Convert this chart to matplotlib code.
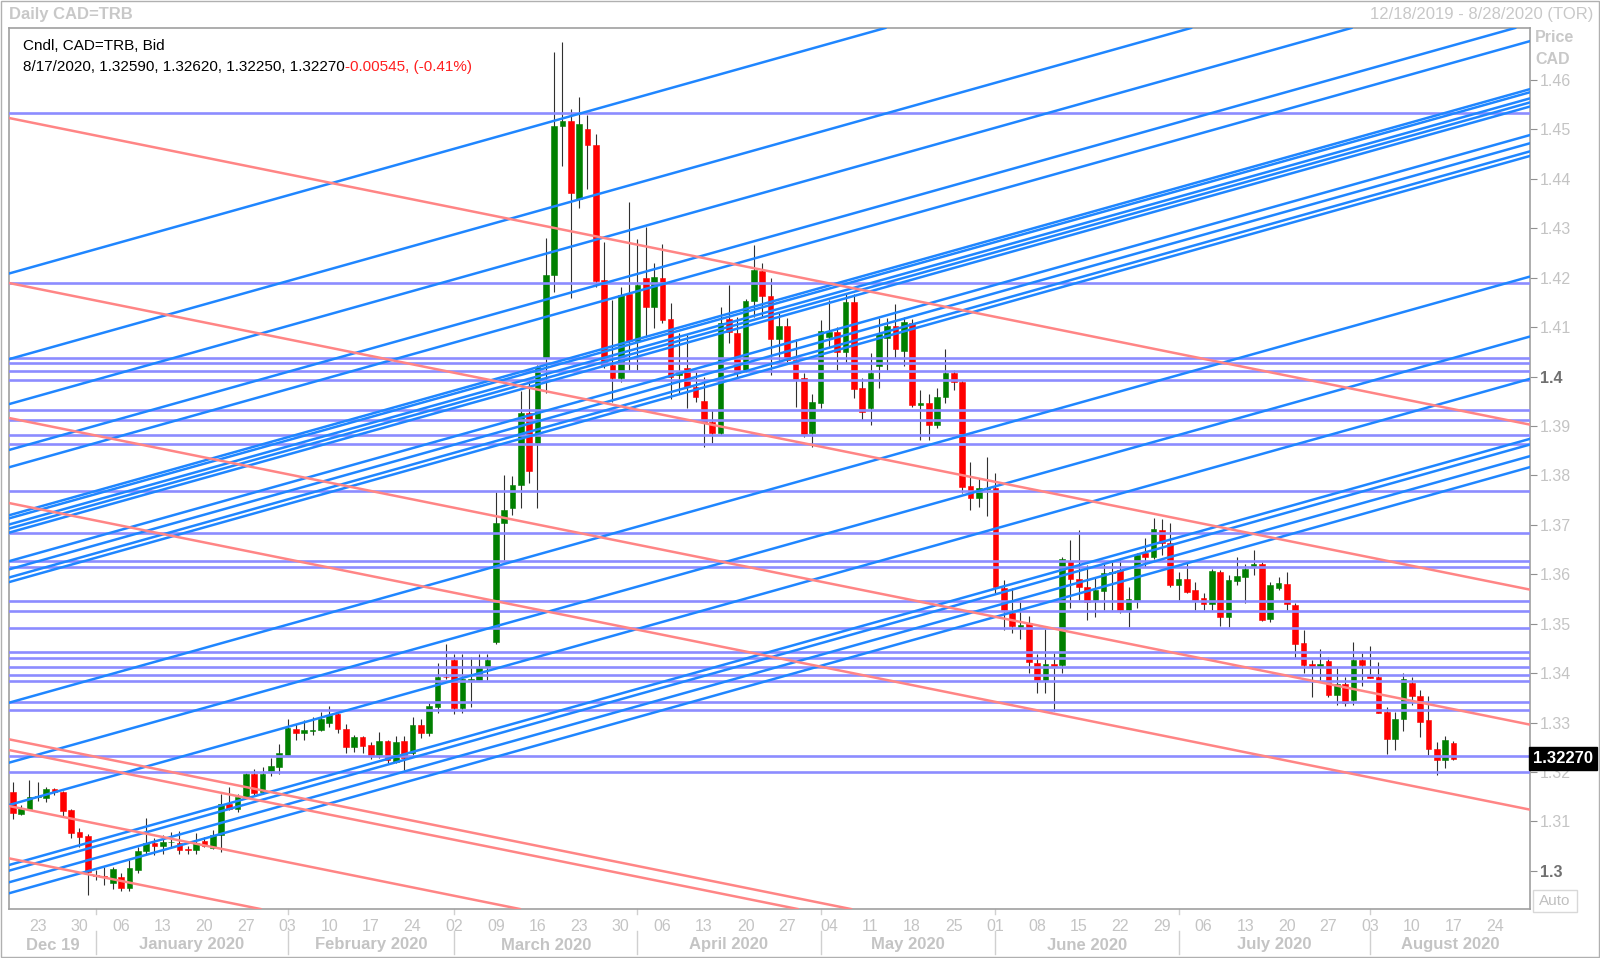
import matplotlib
matplotlib.use("Agg")
import matplotlib.pyplot as plt
from matplotlib.patches import Rectangle
from matplotlib.lines import Line2D
import numpy as np
import pandas as pd

# daily CAD=TRB candles, 12/18/2019 .. 8/17/2020 (one per weekday)
opens = [
    1.3160, 1.3116, 1.3126, 1.3150, 1.3147, 1.3166, 1.3160, 1.3123, 1.3079, 1.3070,
    1.2991, 1.2990, 1.2975, 1.2988, 1.2965, 1.3002, 1.3040, 1.3057, 1.3051, 1.3058,
    1.3056, 1.3044, 1.3042, 1.3060, 1.3047, 1.3072, 1.3135, 1.3126, 1.3150, 1.3197,
    1.3160, 1.3203, 1.3211, 1.3234, 1.3287, 1.3278, 1.3284, 1.3285, 1.3300, 1.3317,
    1.3287, 1.3251, 1.3270, 1.3255, 1.3234, 1.3263, 1.3221, 1.3263, 1.3238, 1.3295,
    1.3278, 1.3332, 1.3393, 1.3427, 1.3329, 1.3386, 1.3386, 1.3412, 1.3464, 1.3703,
    1.3735, 1.3781, 1.3927, 1.3866, 1.4037, 1.4205, 1.4506, 1.4518, 1.4359, 1.4501,
    1.4469, 1.4195, 1.4024, 1.3997, 1.4168, 1.4071, 1.4199, 1.4140, 1.4199, 1.4116,
    1.4003, 1.4017, 1.3978, 1.3951, 1.3909, 1.3885, 1.4116, 1.4088, 1.4013, 1.4152,
    1.4214, 1.4164, 1.4077, 1.4102, 1.4034, 1.3998, 1.3885, 1.3946, 1.4081, 1.4091,
    1.4050, 1.4150, 1.3976, 1.3937, 1.4021, 1.4079, 1.4102, 1.4052, 1.4108, 1.3943,
    1.3946, 1.3903, 1.3958, 1.4008, 1.3990, 1.3779, 1.3754, 1.3773, 1.3774, 1.3572,
    1.3521, 1.3494, 1.3502, 1.3421, 1.3386, 1.3418, 1.3416, 1.3626, 1.3590, 1.3574,
    1.3549, 1.3567, 1.3603, 1.3609, 1.3528, 1.3549, 1.3644, 1.3636, 1.3690, 1.3663,
    1.3578, 1.3590, 1.3568, 1.3553, 1.3540, 1.3605, 1.3513, 1.3587, 1.3594, 1.3617,
    1.3621, 1.3509, 1.3572, 1.3580, 1.3538, 1.3462, 1.3419, 1.3415, 1.3425, 1.3356,
    1.3379, 1.3346, 1.3427, 1.3394, 1.3393, 1.3322, 1.3266, 1.3307, 1.3381, 1.3354,
    1.3305, 1.3246, 1.3224, 1.3259,
]
highs = [
    1.3180, 1.3133, 1.3184, 1.3180, 1.3170, 1.3167, 1.3161, 1.3126, 1.3087, 1.3074,
    1.3002, 1.3008, 1.3008, 1.2996, 1.3022, 1.3049, 1.3106, 1.3066, 1.3073, 1.3079,
    1.3081, 1.3051, 1.3076, 1.3069, 1.3082, 1.3155, 1.3170, 1.3155, 1.3199, 1.3207,
    1.3211, 1.3228, 1.3257, 1.3307, 1.3298, 1.3305, 1.3312, 1.3322, 1.3334, 1.3320,
    1.3298, 1.3275, 1.3273, 1.3261, 1.3280, 1.3265, 1.3273, 1.3273, 1.3311, 1.3308,
    1.3340, 1.3420, 1.3460, 1.3439, 1.3439, 1.3433, 1.3439, 1.3439, 1.3767, 1.3801,
    1.3798, 1.3970, 1.3993, 1.4023, 1.4280, 1.4657, 1.4676, 1.4541, 1.4566, 1.4529,
    1.4491, 1.4273, 1.4155, 1.4182, 1.4354, 1.4278, 1.4303, 1.4229, 1.4268, 1.4148,
    1.4088, 1.4084, 1.4010, 1.4000, 1.3932, 1.4140, 1.4185, 1.4121, 1.4156, 1.4266,
    1.4230, 1.4200, 1.4128, 1.4118, 1.4077, 1.4007, 1.3964, 1.4114, 1.4155, 1.4101,
    1.4168, 1.4168, 1.3998, 1.4047, 1.4118, 1.4118, 1.4147, 1.4121, 1.4116, 1.3973,
    1.3965, 1.3976, 1.4055, 1.4013, 1.3993, 1.3828, 1.3794, 1.3838, 1.3804, 1.3588,
    1.3572, 1.3543, 1.3516, 1.3439, 1.3489, 1.3440, 1.3636, 1.3669, 1.3690, 1.3619,
    1.3595, 1.3622, 1.3624, 1.3632, 1.3574, 1.3644, 1.3673, 1.3713, 1.3711, 1.3704,
    1.3605, 1.3626, 1.3585, 1.3563, 1.3610, 1.3609, 1.3599, 1.3634, 1.3621, 1.3650,
    1.3624, 1.3585, 1.3594, 1.3605, 1.3541, 1.3487, 1.3427, 1.3448, 1.3433, 1.3410,
    1.3393, 1.3464, 1.3440, 1.3455, 1.3423, 1.3332, 1.3322, 1.3401, 1.3393, 1.3365,
    1.3353, 1.3261, 1.3273, 1.3262,
]
lows = [
    1.3104, 1.3113, 1.3123, 1.3142, 1.3140, 1.3153, 1.3111, 1.3066, 1.3049, 1.2951,
    1.2981, 1.2971, 1.2963, 1.2960, 1.2960, 1.2995, 1.3032, 1.3032, 1.3035, 1.3049,
    1.3035, 1.3035, 1.3035, 1.3049, 1.3045, 1.3039, 1.3123, 1.3120, 1.3149, 1.3151,
    1.3155, 1.3191, 1.3197, 1.3234, 1.3265, 1.3265, 1.3275, 1.3282, 1.3292, 1.3278,
    1.3238, 1.3241, 1.3238, 1.3226, 1.3228, 1.3218, 1.3218, 1.3204, 1.3234, 1.3268,
    1.3273, 1.3319, 1.3389, 1.3317, 1.3320, 1.3332, 1.3386, 1.3386, 1.3460, 1.3629,
    1.3720, 1.3735, 1.3784, 1.3734, 1.3966, 1.4172, 1.4426, 1.4158, 1.4342, 1.4379,
    1.4182, 1.4017, 1.3949, 1.3990, 1.4013, 1.4013, 1.4081, 1.4098, 1.4108, 1.3954,
    1.3966, 1.3936, 1.3949, 1.3858, 1.3865, 1.3882, 1.4067, 1.4000, 1.4010, 1.4120,
    1.4121, 1.4003, 1.4034, 1.4030, 1.3939, 1.3878, 1.3858, 1.3936, 1.4057, 1.4013,
    1.4030, 1.3956, 1.3913, 1.3902, 1.3976, 1.4013, 1.4037, 1.4021, 1.3939, 1.3872,
    1.3872, 1.3895, 1.3946, 1.3973, 1.3764, 1.3730, 1.3737, 1.3717, 1.3561, 1.3487,
    1.3482, 1.3470, 1.3400, 1.3360, 1.3360, 1.3324, 1.3400, 1.3531, 1.3549, 1.3508,
    1.3514, 1.3528, 1.3528, 1.3521, 1.3494, 1.3531, 1.3615, 1.3630, 1.3639, 1.3574,
    1.3549, 1.3563, 1.3528, 1.3528, 1.3528, 1.3495, 1.3494, 1.3578, 1.3541, 1.3598,
    1.3506, 1.3504, 1.3568, 1.3528, 1.3430, 1.3401, 1.3352, 1.3386, 1.3352, 1.3336,
    1.3334, 1.3336, 1.3374, 1.3391, 1.3319, 1.3236, 1.3245, 1.3284, 1.3336, 1.3271,
    1.3235, 1.3194, 1.3208, 1.3225,
]
closes = [
    1.3118, 1.3128, 1.3149, 1.3152, 1.3166, 1.3159, 1.3121, 1.3077, 1.3069, 1.2998,
    1.2990, 1.2988, 1.3004, 1.2965, 1.3006, 1.3040, 1.3056, 1.3051, 1.3059, 1.3059,
    1.3042, 1.3042, 1.3057, 1.3051, 1.3072, 1.3135, 1.3126, 1.3149, 1.3195, 1.3157,
    1.3197, 1.3212, 1.3239, 1.3290, 1.3278, 1.3285, 1.3285, 1.3307, 1.3315, 1.3287,
    1.3250, 1.3270, 1.3253, 1.3234, 1.3263, 1.3224, 1.3260, 1.3228, 1.3295, 1.3278,
    1.3334, 1.3393, 1.3392, 1.3329, 1.3388, 1.3389, 1.3412, 1.3427, 1.3704, 1.3731,
    1.3781, 1.3927, 1.3808, 1.4020, 1.4205, 1.4506, 1.4518, 1.4372, 1.4510, 1.4469,
    1.4194, 1.4024, 1.3997, 1.4166, 1.4071, 1.4185, 1.4140, 1.4202, 1.4115, 1.4000,
    1.4010, 1.3978, 1.3959, 1.3909, 1.3885, 1.4108, 1.4091, 1.4007, 1.4152, 1.4215,
    1.4163, 1.4077, 1.4102, 1.4034, 1.3996, 1.3884, 1.3948, 1.4093, 1.4091, 1.4050,
    1.4150, 1.3974, 1.3929, 1.4008, 1.4087, 1.4102, 1.4055, 1.4111, 1.3943, 1.3946,
    1.3903, 1.3958, 1.4008, 1.3990, 1.3777, 1.3754, 1.3774, 1.3775, 1.3575, 1.3528,
    1.3495, 1.3498, 1.3423, 1.3386, 1.3418, 1.3415, 1.3630, 1.3590, 1.3574, 1.3543,
    1.3569, 1.3603, 1.3604, 1.3528, 1.3551, 1.3639, 1.3636, 1.3691, 1.3664, 1.3578,
    1.3590, 1.3565, 1.3549, 1.3540, 1.3607, 1.3513, 1.3588, 1.3597, 1.3610, 1.3621,
    1.3508, 1.3578, 1.3582, 1.3540, 1.3460, 1.3417, 1.3415, 1.3419, 1.3356, 1.3379,
    1.3339, 1.3427, 1.3417, 1.3391, 1.3320, 1.3266, 1.3307, 1.3389, 1.3354, 1.3302,
    1.3246, 1.3224, 1.3265, 1.3227,
]

# drawn tools: horizontal levels and two sets of parallel trend lines
h_levels = [1.4533, 1.4189, 1.4037, 1.4028, 1.4012, 1.3994, 1.3932, 1.3912, 1.3882,
            1.3864, 1.3769, 1.3683, 1.3627, 1.3614, 1.3547, 1.3526, 1.3491, 1.3442,
            1.3430, 1.3413, 1.3396, 1.3385, 1.3342, 1.3325, 1.3233, 1.3201]
blue_start = [1.42085, 1.40352, 1.39443, 1.38515, 1.38165, 1.37194, 1.37131, 1.37007,
              1.36925, 1.36842, 1.36265, 1.36099, 1.35935, 1.35842, 1.33402, 1.32189,
              1.31333, 1.30119, 1.30004, 1.29769, 1.29547]
blue_slope = 0.000472     # price per trading day
red_start = [1.45231, 1.41893, 1.39162, 1.37442, 1.32662, 1.32445, 1.31312, 1.30254]
red_slope = -0.0003396

month_names = ["Dec 19", "January 2020", "February 2020", "March 2020", "April 2020",
               "May 2020", "June 2020", "July 2020", "August 2020"]
y_ticks = [1.30, 1.31, 1.32, 1.33, 1.34, 1.35, 1.36, 1.37, 1.38, 1.39,
           1.40, 1.41, 1.42, 1.43, 1.44, 1.45, 1.46]
last_close = 1.32270

W, H = 1600, 958
GREY = "#c4c4c4"
FRAME = "#a0a0a0"

days = pd.bdate_range("2019-12-18", "2020-08-28")
x = np.arange(len(opens))
o, h, l, c = map(np.array, (opens, highs, lows, closes))

fig = plt.figure(figsize=(W / 100, H / 100), dpi=100)
fig.patch.set_facecolor("white")
ax = fig.add_axes([9 / W, 1 - 909 / H, 1521 / W, 881 / H])
x_lo, x_hi = -0.46, 182.2
ax.set_xlim(x_lo, x_hi)
ax.set_ylim(1.29229, 1.47052)

# candles
up = c >= o
col = np.where(up, "#008000", "#ff0000")
ax.vlines(x, l, h, color="#303030", lw=0.8, zorder=2)
body = np.maximum(np.abs(c - o), 0.00008)
ax.bar(x, body, bottom=np.minimum(o, c), width=0.68, color=col, edgecolor=col,
       linewidth=0.4, zorder=3)

# drawings on top
for p in h_levels:
    ax.axhline(p, color="#8c8cff", lw=1.9, zorder=4)
for p in blue_start:
    ax.axline((x_lo, p), slope=blue_slope, color="#1f86ff", lw=1.8, zorder=5)
for p in red_start:
    ax.axline((x_lo, p), slope=red_slope, color="#ff8585", lw=1.8, zorder=5)

for s in ax.spines.values():
    s.set_color(FRAME)
    s.set_linewidth(1.2)

# right price axis
ax.yaxis.tick_right()
ax.set_yticks(y_ticks)
ax.set_yticklabels([f"{v:.2f}".rstrip("0").rstrip(".") for v in y_ticks])
ax.tick_params(axis="y", length=5, color="#909090", pad=2, labelsize=11.5,
               labelcolor=GREY)
for t, v in zip(ax.get_yticklabels(), y_ticks):
    t.set_family("Liberation Sans")
    if round(v, 2) in (1.30, 1.40):
        t.set_color("#707070")
        t.set_fontweight("bold")

# bottom date axis: day numbers on Mondays
mondays = [i for i, d in enumerate(days) if d.weekday() == 0]
ax.set_xticks(mondays)
ax.set_xticklabels([days[i].strftime("%d") for i in mondays])
ax.tick_params(axis="x", length=0, pad=7, labelsize=11.5, labelcolor=GREY)
for t in ax.get_xticklabels():
    t.set_family(["Liberation Sans Narrow", "Liberation Sans"])

# month separators and labels
month_start = [i for i in range(1, len(days)) if days[i].month != days[i - 1].month]
tr = ax.get_xaxis_transform()
ypx = lambda py: (909 - py) / 881
for i in month_start:
    ax.add_line(Line2D([i, i], [ypx(909), ypx(914)], transform=tr, color="#d0d0d0",
                       lw=1, clip_on=False))
    ax.add_line(Line2D([i, i], [ypx(931), ypx(954)], transform=tr, color="#d0d0d0",
                       lw=1, clip_on=False))
edges = [x_lo] + month_start + [x_hi]
for name, a, b in zip(month_names, edges[:-1], edges[1:]):
    ax.text((a + b) / 2, ypx(945), name, transform=tr, ha="center", va="center",
            fontsize=12, fontweight="bold", color=GREY, family="Liberation Sans")

# header texts
fig.text(9 / W, 1 - 14 / H, "Daily CAD=TRB", ha="left", va="center", fontsize=12,
         fontweight="bold", color="#c8c8c8", family="Liberation Sans")
fig.text(1593 / W, 1 - 15 / H, "12/18/2019 - 8/28/2020 (TOR)", ha="right", va="center",
         fontsize=12, color="#c8c8c8", family="Liberation Sans")
fig.text(23 / W, 1 - 46 / H, "Cndl, CAD=TRB, Bid", ha="left", va="center",
         fontsize=11, color="black", family="Liberation Sans")
first = fig.text(23 / W, 1 - 67 / H, "8/17/2020, 1.32590, 1.32620, 1.32250, 1.32270",
                 ha="left", va="center", fontsize=11, color="black",
                 family="Liberation Sans")
fig.canvas.draw()
bb = first.get_window_extent()
fig.text(bb.x1 / W, 1 - 67 / H, "-0.00545, (-0.41%)", ha="left", va="center",
         fontsize=11, color="#ff2020", family="Liberation Sans")

fig.text(1535 / W, 1 - 38 / H, "Price", ha="left", va="center", fontsize=11.5,
         fontweight="bold", color="#c8c8c8", family="Liberation Sans")
fig.text(1535 / W, 1 - 59 / H, "CAD", ha="left", va="center", fontsize=11.5,
         fontweight="bold", color="#c8c8c8", family="Liberation Sans")

# last price tag
ax.text(1.002, last_close, f"{last_close:.5f}", transform=ax.get_yaxis_transform(),
        ha="left", va="center", fontsize=12, fontweight="bold", color="white",
        family="Liberation Sans", zorder=10, clip_on=False,
        bbox=dict(boxstyle="square,pad=0.25", fc="black", ec="black"))

# "Auto" button
fig.patches.append(Rectangle((1533 / W, 1 - 912 / H), 44 / W, 22 / H,
                             transform=fig.transFigure, fc="white", ec="#d8d8d8", lw=1))
fig.text(1555 / W, 1 - 901 / H, "Auto", ha="center", va="center", fontsize=11,
         color="#c0c0c0", family="Liberation Sans")

# outer frame of the window
fig.patches.append(Rectangle((1 / W, 1 / H), 1 - 2 / W, 1 - 2 / H,
                             transform=fig.transFigure, fill=False, ec="#b0b0b0", lw=1))

fig.savefig("out.png", dpi=100, facecolor="white")
